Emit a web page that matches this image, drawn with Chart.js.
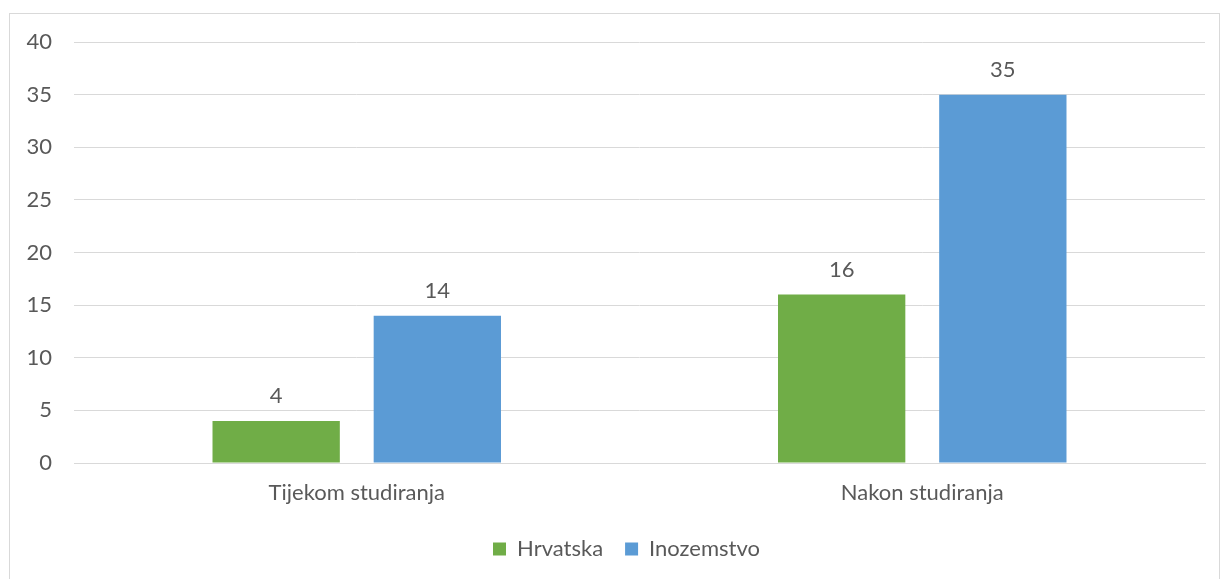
<!DOCTYPE html>
<html>
<head>
<meta charset="utf-8">
<script src="https://cdn.jsdelivr.net/npm/chart.js@4"></script>
<style>
  body { margin: 0; background: #fff; overflow: hidden; }
  #box {
    position: absolute; left: 9px; top: 13px;
    width: 1211px; height: 590px;
    border: 1px solid #d9d9d9; box-sizing: border-box;
  }
  #wrap { position: absolute; left: 0; top: 0; width: 1209px; height: 580px; }
</style>
</head>
<body>
<div id="box"><div id="wrap"><canvas id="chart"></canvas></div></div>
<script>
'use strict';

let categories = ['Tijekom studiranja', 'Nakon studiranja'];
let seriesNames = ['Hrvatska', 'Inozemstvo'];
let hrvatska = [4, 16];
let inozemstvo = [14, 35];
let yTicks = [0, 5, 10, 15, 20, 25, 30, 35, 40];

let ctx = document.getElementById('chart').getContext('2d');
let fontFamily = 'Lato, "Open Sans", sans-serif';
let fontSize = 22;
let textColor = '#595959';

// draws the value above each bar
let valueLabels = {
  id: 'valueLabels',
  afterDatasetsDraw(chart) {
    let c = chart.ctx;
    c.save();
    c.font = fontSize + 'px ' + fontFamily;
    c.fillStyle = textColor;
    c.textAlign = 'center';
    c.textBaseline = 'middle';
    chart.data.datasets.forEach((ds, i) => {
      chart.getDatasetMeta(i).data.forEach((bar, j) => {
        c.fillText(ds.data[j], bar.x, bar.y - 25);
      });
    });
    c.restore();
  }
};

// nudge the legend a little right, like the original
let legendShift = {
  id: 'legendShift',
  afterLayout(chart) {
    chart.legend.left += 19;
    chart.legend.right += 19;
  }
};

let chartObject = new Chart(ctx, {
  type: 'bar',
  data: {
    labels: categories,
    datasets: [{
      label: seriesNames[0],
      data: hrvatska,
      backgroundColor: '#70ad47'
    },
    {
      label: seriesNames[1],
      data: inozemstvo,
      backgroundColor: '#5b9bd5'
    }]
  },
  options: {
    responsive: true,
    maintainAspectRatio: false,
    animation: false,
    categoryPercentage: 0.57,
    barPercentage: 0.79,
    layout: { padding: { left: 0, right: 14, top: 28, bottom: 24 } },
    plugins: {
      legend: {
        position: 'bottom',
        labels: {
          boxWidth: 13,
          boxHeight: 13,
          padding: 22,
          color: textColor,
          font: { family: fontFamily, size: fontSize }
        }
      },
      tooltip: { enabled: false }
    },
    scales: {
      x: {
        grid: { display: false, drawTicks: false },
        border: { color: '#d9d9d9' },
        ticks: {
          color: textColor,
          padding: 17,
          font: { family: fontFamily, size: fontSize }
        },
        afterFit(scale) { scale.height = 53; }
      },
      y: {
        min: 0,
        max: 40,
        afterBuildTicks(scale) { scale.ticks = yTicks.map(v => ({ value: v })); },
        grid: { color: '#d9d9d9', drawTicks: false },
        border: { display: false },
        ticks: {
          color: textColor,
          padding: 22,
          font: { family: fontFamily, size: fontSize }
        },
        afterFit(scale) {
          scale.width = 64;
          scale.paddingTop = 0;
          scale.paddingBottom = 0;
        }
      }
    }
  },
  plugins: [valueLabels, legendShift]
});
</script>
</body>
</html>
